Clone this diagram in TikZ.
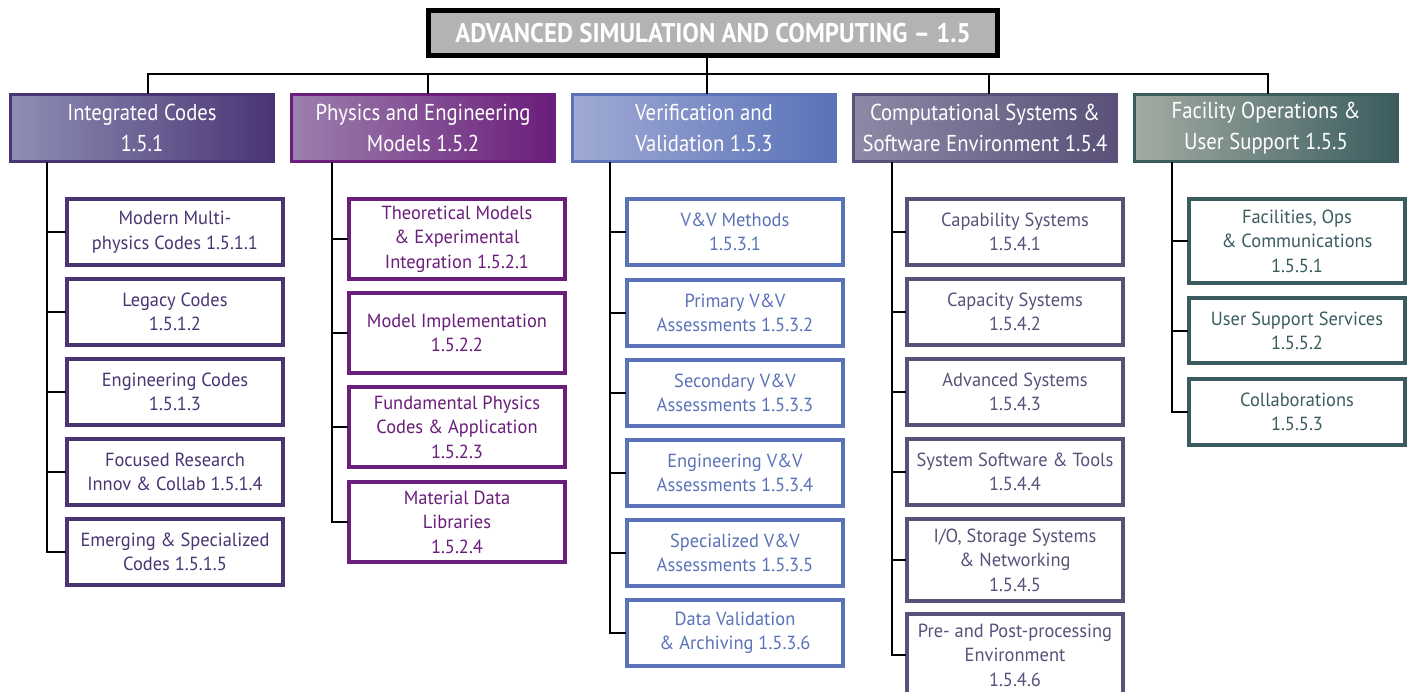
\documentclass[tikz,border=0pt]{standalone}
\usepackage{fontspec}
\setmainfont{PT Sans}
\newfontfamily\condfont[FakeStretch=0.9]{PT Sans}
\newfontfamily\subfont[FakeStretch=0.97]{PT Sans}
\newfontfamily\boldcond[FakeStretch=0.92]{PT Sans Bold}
\usetikzlibrary{shadings}
\definecolor{cA}{HTML}{4B3474}
\definecolor{cAl}{HTML}{8E8FB5}
\definecolor{cB}{HTML}{6A1D7A}
\definecolor{cBl}{HTML}{9C80AE}
\definecolor{cC}{HTML}{5A72B8}
\definecolor{cCl}{HTML}{A0AAD4}
\definecolor{cD}{HTML}{5A5079}
\definecolor{cDl}{HTML}{8C8AA6}
\definecolor{cE}{HTML}{3A5C5F}
\definecolor{cEl}{HTML}{A3ACA3}
\definecolor{titlegray}{HTML}{B3B3B3}
\tikzset{
  sub/.style={draw=#1, line width=4pt, text=#1, fill=white, minimum width=216pt,
    align=center, inner sep=0pt, font=\subfont\fontsize{19}{24.5}\selectfont},
  head/.style={draw=#1, line width=3pt, text=white, minimum width=263pt, minimum height=67pt,
    align=center, inner sep=0pt, font=\condfont\fontsize{23}{31}\selectfont},
  link/.style={line width=2.2pt, line cap=rect},
}
\begin{document}
\begin{tikzpicture}[x=1pt,y=-1pt]
\useasboundingbox (0,0) rectangle (1408,692);
% title
\node[draw=black, line width=5pt, fill=titlegray, minimum width=569pt, minimum height=45pt, inner sep=0pt,
  text=white, font=\boldcond\fontsize{27}{30}\selectfont] (top) at (713,33) {ADVANCED SIMULATION AND COMPUTING – 1.5};
% headers
\node[head=cA, left color=cAl, right color=cA] (h1) at (142,128) {Integrated Codes\\1.5.1};
\node[head=cB, left color=cBl, right color=cB] (h2) at (423,128) {Physics and Engineering\\Models 1.5.2};
\node[head=cC, left color=cCl, right color=cC] (h3) at (704,128) {Verification and\\Validation 1.5.3};
\node[head=cD, left color=cDl, right color=cD] (h4) at (985,128) {Computational Systems \&\\Software Environment 1.5.4};
\node[head=cE, left color=cEl, right color=cE] (h5) at (1266,128) {Facility Operations \&\\User Support 1.5.5};
% top connectors
\coordinate (bus) at (707,74);
\draw[link] (top.south -| bus) -- (bus);
\draw[link] (148,74) -- (1268,74);
\foreach \x/\h in {148/h1,428/h2,707/h3,989/h4,1268/h5}{
  \draw[link] (\x,74) -- (\x,93);
}
% column 1
\node[sub=cA, minimum height=66pt] (a1) at (175,232) {Modern Multi-\\physics Codes 1.5.1.1};
\node[sub=cA, minimum height=66pt] (a2) at (175,312) {Legacy Codes\\1.5.1.2};
\node[sub=cA, minimum height=66pt] (a3) at (175,392) {Engineering Codes\\1.5.1.3};
\node[sub=cA, minimum height=66pt] (a4) at (175,472) {Focused Research\\Innov \& Collab 1.5.1.4};
\node[sub=cA, minimum height=66pt] (a5) at (175,552) {Emerging \& Specialized\\Codes 1.5.1.5};
\coordinate (s1) at (47,163);
\draw[link] (s1) -- (s1 |- a5.west);
\foreach \n in {a1,a2,a3,a4,a5}{\draw[link] (s1 |- \n.west) -- (\n.west);}
% column 2
\node[sub=cB, minimum height=80pt] (b1) at (457,239) {Theoretical Models\\\& Experimental\\Integration 1.5.2.1};
\node[sub=cB, minimum height=80pt] (b2) at (457,333) {Model Implementation\\1.5.2.2};
\node[sub=cB, minimum height=80pt] (b3) at (457,427) {Fundamental Physics\\Codes \& Application\\1.5.2.3};
\node[sub=cB, minimum height=80pt] (b4) at (457,522) {Material Data\\Libraries\\1.5.2.4};
\coordinate (s2) at (332,163);
\draw[link] (s2) -- (s2 |- b4.west);
\foreach \n in {b1,b2,b3,b4}{\draw[link] (s2 |- \n.west) -- (\n.west);}
% column 3
\node[sub=cC, minimum height=66pt] (c1) at (735,232) {V\&V Methods\\1.5.3.1};
\node[sub=cC, minimum height=66pt] (c2) at (735,313) {Primary V\&V\\Assessments 1.5.3.2};
\node[sub=cC, minimum height=66pt] (c3) at (735,393) {Secondary V\&V\\Assessments 1.5.3.3};
\node[sub=cC, minimum height=66pt] (c4) at (735,473) {Engineering V\&V\\Assessments 1.5.3.4};
\node[sub=cC, minimum height=66pt] (c5) at (735,553) {Specialized V\&V\\Assessments 1.5.3.5};
\node[sub=cC, minimum height=66pt] (c6) at (735,633) {Data Validation\\\& Archiving 1.5.3.6};
\coordinate (s3) at (610,163);
\draw[link] (s3) -- (s3 |- c6.west);
\foreach \n in {c1,c2,c3,c4,c5,c6}{\draw[link] (s3 |- \n.west) -- (\n.west);}
% column 4
\node[sub=cD, minimum height=66pt] (d1) at (1015,232) {Capability Systems\\1.5.4.1};
\node[sub=cD, minimum height=66pt] (d2) at (1015,312) {Capacity Systems\\1.5.4.2};
\node[sub=cD, minimum height=66pt] (d3) at (1015,392) {Advanced Systems\\1.5.4.3};
\node[sub=cD, minimum height=66pt] (d4) at (1015,472) {System Software \& Tools\\1.5.4.4};
\node[sub=cD, minimum height=82pt] (d5) at (1015,560) {I/O, Storage Systems\\\& Networking\\1.5.4.5};
\node[sub=cD, minimum height=82pt] (d6) at (1015,655) {Pre- and Post-processing\\Environment\\1.5.4.6};
\coordinate (s4) at (892,163);
\draw[link] (s4) -- (s4 |- d6.west);
\foreach \n in {d1,d2,d3,d4,d5,d6}{\draw[link] (s4 |- \n.west) -- (\n.west);}
% column 5
\node[sub=cE, minimum height=84pt] (e1) at (1297,241) {Facilities, Ops\\\& Communications\\1.5.5.1};
\node[sub=cE, minimum height=65pt] (e2) at (1297,331) {User Support Services\\1.5.5.2};
\node[sub=cE, minimum height=66pt] (e3) at (1297,412) {Collaborations\\1.5.5.3};
\coordinate (s5) at (1172,163);
\draw[link] (s5) -- (s5 |- e3.west);
\foreach \n in {e1,e2,e3}{\draw[link] (s5 |- \n.west) -- (\n.west);}
\end{tikzpicture}
\end{document}
